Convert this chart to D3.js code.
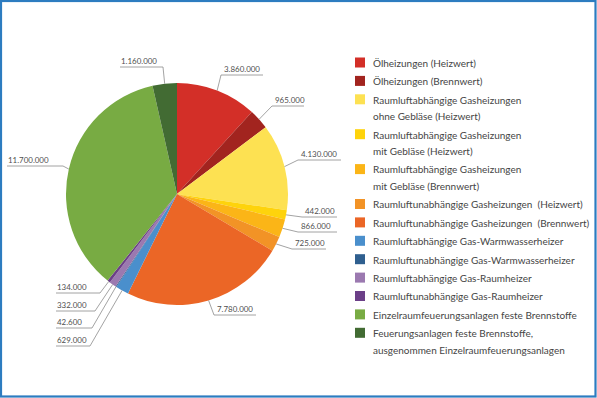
<!DOCTYPE html>
<html lang="de">
<head>
<meta charset="utf-8">
<title>Feuerstaetten</title>
<style>
  body { margin: 0; background: #fff; }
  svg { display: block; }
  .lbl { font-family: Lato, "Open Sans", sans-serif; font-size: 9.5px; fill: #505050; }
  .leg { font-family: Lato, "Open Sans", sans-serif; font-size: 10.5px; fill: #454545; }
  .lead { fill: none; stroke: #8c8c8c; stroke-width: 0.8; }
</style>
</head>
<body>
<div id="chart"></div>
<script src="https://cdn.jsdelivr.net/npm/d3@7"></script>
<script>
// categories (legend lines) and values
var categories = [
  ["Ölheizungen (Heizwert)"],
  ["Ölheizungen (Brennwert)"],
  ["Raumluftabhängige Gasheizungen", "ohne Gebläse (Heizwert)"],
  ["Raumluftabhängige Gasheizungen", "mit Gebläse (Heizwert)"],
  ["Raumluftabhängige Gasheizungen", "mit Gebläse (Brennwert)"],
  ["Raumluftunabhängige Gasheizungen  (Heizwert)"],
  ["Raumluftunabhängige Gasheizungen  (Brennwert)"],
  ["Raumluftabhängige Gas-Warmwasserheizer"],
  ["Raumluftunabhängige Gas-Warmwasserheizer"],
  ["Raumluftabhängige Gas-Raumheizer"],
  ["Raumluftunabhängige Gas-Raumheizer"],
  ["Einzelraumfeuerungsanlagen feste Brennstoffe"],
  ["Feuerungsanlagen feste Brennstoffe,", "ausgenommen Einzelraumfeuerungsanlagen"]
];
var values = [3860000, 965000, 4130000, 442000, 866000, 725000, 7780000,
              629000, 42600, 332000, 134000, 11700000, 1160000];
var valueLabels = ["3.860.000", "965.000", "4.130.000", "442.000", "866.000", "725.000",
                   "7.780.000", "629.000", "42.600", "332.000", "134.000", "11.700.000", "1.160.000"];
var colors = ["#d32f28", "#a2241f", "#fde152", "#fed30c", "#fbb517", "#f29326", "#eb6626",
              "#4a8fcc", "#2f5f8f", "#9b79b0", "#6c3f88", "#78ab43", "#426b33"];

// label layout: underline start x, underline y, underline end x, text side
var labelPos = [
  [221, 75, 263, "r"], [272, 106, 304, "r"], [298, 160, 341, "r"], [302, 217, 337, "r"],
  [298, 232, 337, "r"], [292, 249, 326, "r"], [214, 315, 256, "r"],
  [90, 346, 56, "l"], [92, 328, 56, "l"], [95, 311, 56, "l"], [100, 293, 56, "l"],
  [63, 166, 7, "l"], [163, 67, 120, "l"]
];

var W = 597, H = 398;
var cx = 177, cy = 194, r = 111;

var svg = d3.select("#chart").append("svg").attr("width", W).attr("height", H);

// frame
svg.append("rect").attr("x", 1).attr("y", 1).attr("width", W - 2.5).attr("height", H - 2.5)
  .attr("fill", "#fff").attr("stroke", "#2d7cc0").attr("stroke-width", 2.2);

var pie = d3.pie().sort(null).value(function (d) { return d; });
var arcs = pie(values);
var arc = d3.arc().innerRadius(0).outerRadius(r);
var edge = d3.arc().innerRadius(r).outerRadius(r);

var g = svg.append("g").attr("transform", "translate(" + cx + "," + cy + ")");
g.selectAll("path.slice").data(arcs).enter().append("path")
  .attr("class", "slice")
  .attr("d", arc)
  .attr("fill", function (d, i) { return colors[i]; });

// leader lines and value labels
var lab = svg.append("g");
var labTexts = [];
arcs.forEach(function (d, i) {
  var p = edge.centroid(d);
  var ex = cx + p[0], ey = cy + p[1];
  var lp = labelPos[i];
  lab.append("polyline").attr("class", "lead")
    .attr("points", [[ex, ey], [lp[0], lp[1]], [lp[2], lp[1]]].map(function (q) { return q.join(","); }).join(" "));
  var tx = lp[3] === "r" ? lp[0] + 3 : lp[2] + 1;
  labTexts.push(lab.append("text").attr("class", "lbl")
    .attr("x", tx).attr("y", lp[1] - 3)
    .text(valueLabels[i]));
});
// fit number size: "3.860.000" is about 36px wide in the reference
var w0 = labTexts[0].node().getComputedTextLength();
lab.selectAll("text").style("font-size", (9.5 * 36 / w0) + "px");

// legend
var leg = svg.append("g").attr("transform", "translate(355,0)");
var y = 63;
categories.forEach(function (lines, i) {
  leg.append("rect").attr("x", 0).attr("y", y - 5.5).attr("width", 10).attr("height", 10)
    .attr("fill", colors[i]);
  lines.forEach(function (t, k) {
    leg.append("text").attr("class", "leg")
      .attr("x", 18).attr("y", y + k * 16.5 + 3.8)
      .attr("xml:space", "preserve")
      .style("white-space", "pre")
      .text(t);
  });
  y += 18.4 + (lines.length - 1) * 16.5;
});
// fit legend size: longest single line is about 204px wide in the reference
var ref = leg.selectAll("text").filter(function () { return this.textContent === categories[11][0]; });
var w1 = ref.node().getComputedTextLength();
leg.selectAll("text").style("font-size", (10.5 * 204 / w1) + "px");
</script>
</body>
</html>
